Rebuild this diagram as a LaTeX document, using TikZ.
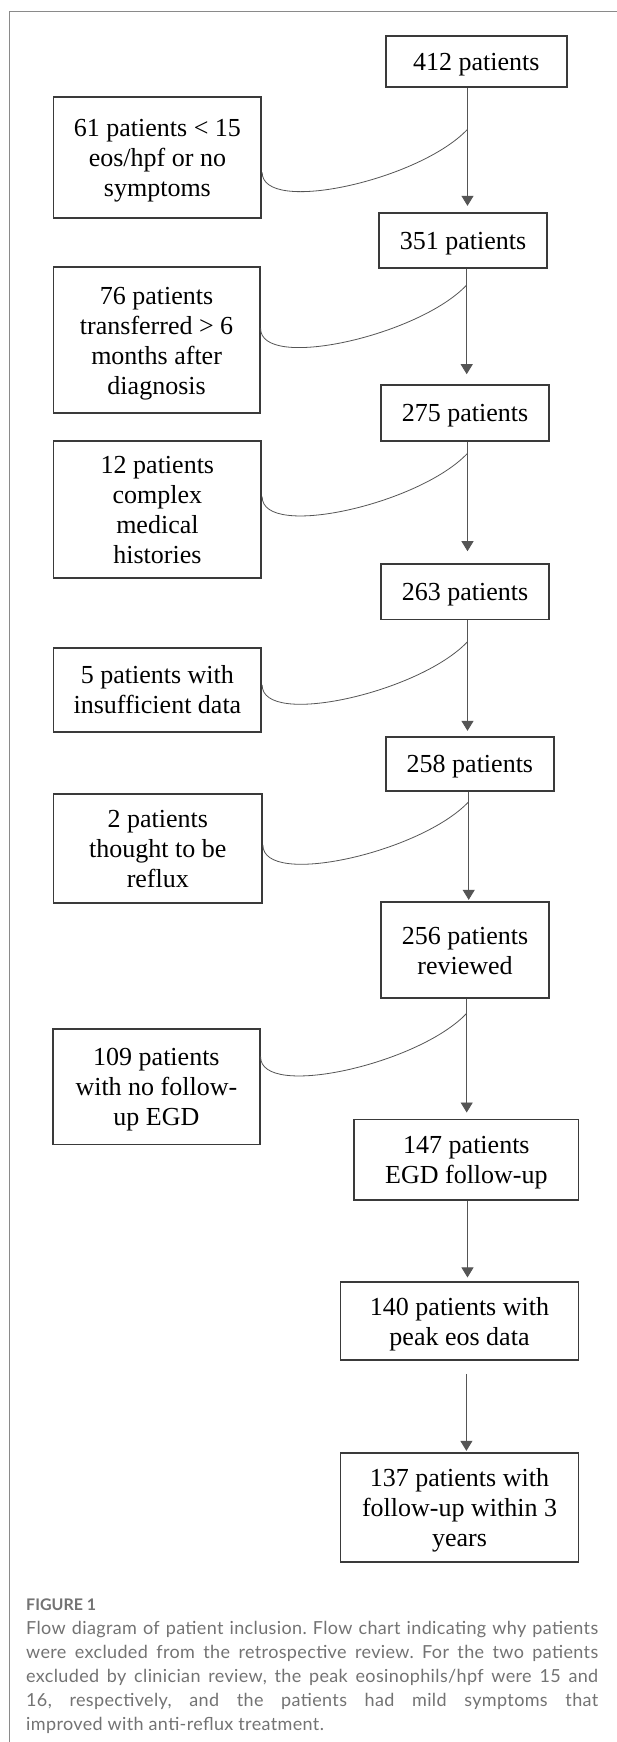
\documentclass[tikz,border=0pt]{standalone}
\usepackage{fontspec}
\setmainfont{Liberation Serif}
\newfontfamily\capfont[LetterSpace=2]{Lato}
\newfontfamily\caplabfont{Lato}
\usetikzlibrary{arrows.meta}
\definecolor{boxline}{HTML}{3A3A3A}
\definecolor{arrline}{HTML}{555555}
\definecolor{framecol}{HTML}{8A8A8A}
\definecolor{captext}{HTML}{737373}
\tikzset{
  flowbox/.style={draw=boxline, line width=1.7pt, inner sep=0pt, align=center,
    font=\fontsize{26}{30}\selectfont, anchor=center},
  arr/.style={draw=arrline, line width=0.9pt, -{Triangle[width=12pt,length=10pt]}},
  excl/.style={draw=arrline, line width=0.8pt},
}
\newcommand{\fbx}[6]{\node[flowbox, minimum width=#4pt, minimum height=#5pt] (#1) at (#2,#3)
  {\rule{0pt}{27pt}#6\rule[-9pt]{0pt}{9pt}};}
\begin{document}
\begin{tikzpicture}[x=1pt,y=-1pt]
\useasboundingbox (0,0) rectangle (617,1742);
\fill[white] (0,0) rectangle (617,1742);
% frame
\draw[framecol, line width=0.8pt] (617,11) -- (9,11) -- (9,1742);
% boxes
\fbx{b412}{476.2}{61.5}{181}{51.6}{412 patients}
\fbx{b61}{157.4}{157.7}{207.8}{120.7}{61 patients < 15\\eos/hpf or no\\symptoms}
\fbx{b351}{463}{240.5}{168}{54.4}{351 patients}
\fbx{b76}{156.6}{340}{206.2}{146.6}{76 patients\\transferred > 6\\months after\\diagnosis}
\fbx{b275}{465}{412.9}{168}{55.7}{275 patients}
\fbx{b12}{157.4}{509.2}{207.8}{137}{12 patients\\complex\\medical\\histories}
\fbx{b263}{465}{591.7}{168}{55.3}{263 patients}
\fbx{b5}{157.4}{689.7}{207.8}{84}{5 patients with\\insufficient data}
\fbx{b258}{469.9}{763.7}{168.4}{54}{258 patients}
\fbx{b2}{157.8}{848.4}{208.5}{108.7}{2 patients\\thought to be\\reflux}
\fbx{b256}{465}{950.3}{168}{96}{256 patients\\reviewed}
\fbx{b109}{156.4}{1086.7}{206.6}{115.3}{109 patients\\with no follow-\\up EGD}
\fbx{b147}{466.4}{1159.7}{224.3}{80.7}{147 patients\\EGD follow-up}
\fbx{b140}{459.5}{1321}{238.1}{78}{140 patients with\\peak eos data}
\fbx{b137}{459.5}{1507.5}{238.1}{108.4}{137 patients with\\follow-up within 3\\years}
% branch points on the main line
\coordinate (c1) at (467.5,129.3);
\coordinate (c2) at (466.7,285);
\coordinate (c3) at (467.5,453.3);
\coordinate (c4) at (467.5,641.7);
\coordinate (c5) at (468.7,801.7);
\coordinate (c6) at (466.7,1013.3);
\coordinate (c7) at (467.5,1240);
\coordinate (c8) at (466.4,1400);
% main arrows
\draw[arr, shorten >=6.6pt] (b412.south -| c1) -- (b351.north -| c1);
\draw[arr, shorten >=10pt] (b351.south -| c2) -- (b275.north -| c2);
\draw[arr, shorten >=12pt] (b275.south -| c3) -- (b263.north -| c3);
\draw[arr, shorten >=5pt] (b263.south -| c4) -- (b258.north -| c4);
\draw[arr, shorten >=1.6pt] (b258.south -| c5) -- (b256.north -| c5);
\draw[arr, shorten >=6pt] (b256.south -| c6) -- (b147.north -| c6);
\draw[arr, shorten >=3.7pt] (b147.south -| c7) -- (b140.north -| c7);
\draw[arr, shorten <=13pt, shorten >=1.6pt] (b140.south -| c8) -- (b137.north -| c8);
% exclusion curves
\draw[excl] (c1) .. controls +(-48,51) and +(0,43) .. (b61.east |- 0,172.3);
\draw[excl] (c2) .. controls +(-48,51) and +(0,43) .. (b76.east |- 0,328.3);
\draw[excl] (c3) .. controls +(-48,51) and +(0,43) .. (b12.east |- 0,496.7);
\draw[excl] (c4) .. controls +(-48,51) and +(0,43) .. (b5.east |- 0,685);
\draw[excl] (c5) .. controls +(-48,51) and +(0,43) .. (b2.east |- 0,845);
\draw[excl] (c6) .. controls +(-48,51) and +(0,43) .. (b109.east |- 0,1056.7);
% caption
\node[anchor=base west, inner sep=0pt, text=captext, font=\caplabfont\bfseries\fontsize{16}{18}\selectfont] (figlab) at (26,1610) {FIGURE 1};
\node[anchor=base west, inner sep=0pt, text=captext, text width=572pt, align=justify,
  font=\capfont\fontsize{18}{24}\selectfont\frenchspacing] (cap) at (26,1634.3)
  {Flow diagram of patient inclusion. Flow chart indicating why patients\linebreak
   were excluded from the retrospective review. For the two patients\linebreak
   excluded by clinician review, the peak eosinophils/hpf were 15 and\linebreak
   16, respectively, and the patients had mild symptoms that\linebreak
   improved with anti-reflux treatment.};
\end{tikzpicture}
\end{document}
